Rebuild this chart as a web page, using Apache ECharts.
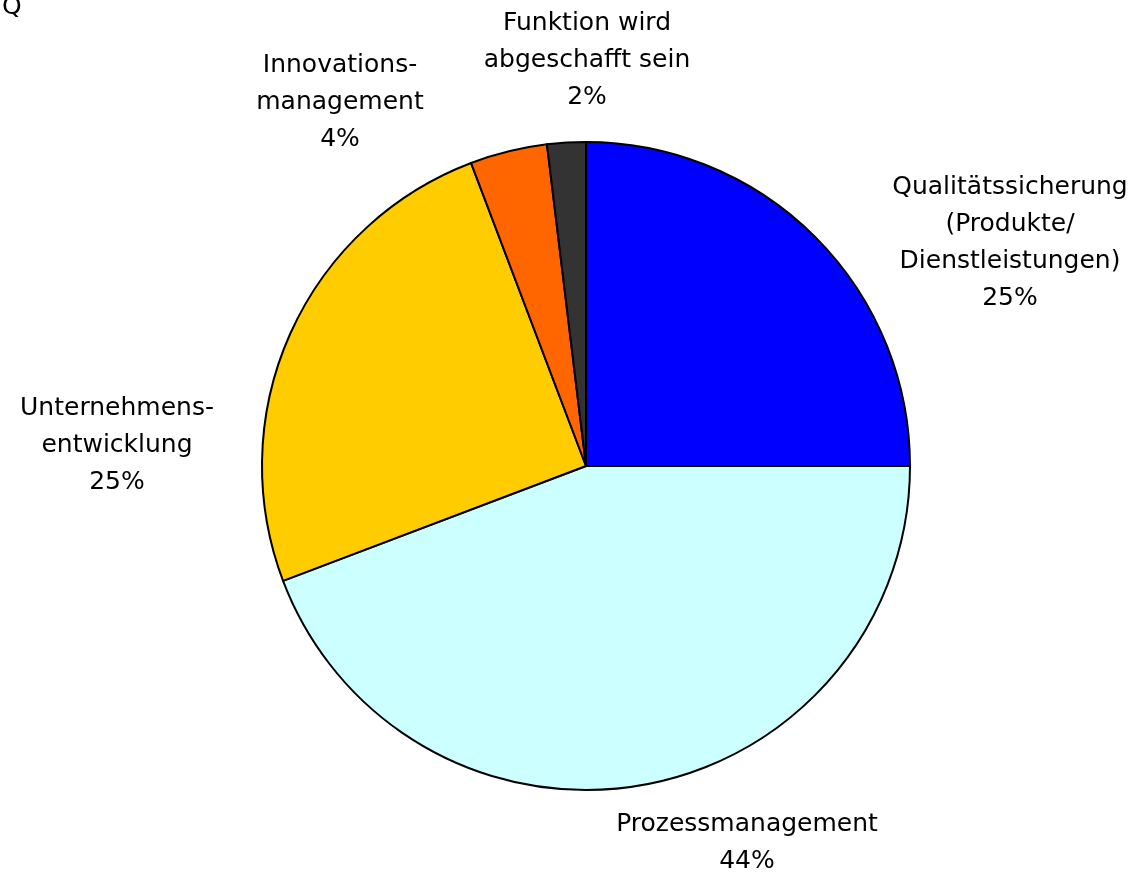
<!DOCTYPE html>
<html>
<head>
<meta charset="utf-8">
<script src="https://cdn.jsdelivr.net/npm/echarts@6/dist/echarts.min.js"></script>
<style>
  html, body { margin: 0; padding: 0; background: #fff; }
  #main { width: 1135px; height: 882px; }
</style>
</head>
<body>
<div id="main"></div>
<script>
// Anteile der Antworten (Anzahl Nennungen)
var categories = [
    'Qualitätssicherung\n(Produkte/\nDienstleistungen)',
    'Prozessmanagement',
    'Unternehmens-\nentwicklung',
    'Innovations-\nmanagement',
    'Funktion wird\nabgeschafft sein'
];
var values = [13, 23, 13, 2, 1];
var colors = ['#0000ff', '#ccffff', '#ffcc00', '#ff6600', '#333333'];

// Label-Mittelpunkte (px)
var labelPos = [[1010, 243], [747, 843], [117, 445], [340, 102], [587, 60]];

var chart = echarts.init(document.getElementById('main'));

var pieData = [];
for (var i = 0; i < values.length; i++) {
    pieData.push({ name: categories[i], value: values[i], itemStyle: { color: colors[i] } });
}

var option = {
    animation: false,
    title: {
        text: 'Q',
        left: -3,
        top: -10,
        textStyle: { fontFamily: 'DejaVu Sans', fontSize: 25, fontWeight: 'normal', color: '#000' }
    },
    series: [{
        type: 'pie',
        center: [586, 466],
        radius: 324,
        startAngle: 90,
        clockwise: true,
        silent: true,
        itemStyle: { borderColor: '#000', borderWidth: 2 },
        label: {
            show: true,
            position: 'outside',
            formatter: function (p) { return p.name + '\n' + Math.round(p.percent) + '%'; },
            fontFamily: 'DejaVu Sans',
            fontSize: 25,
            lineHeight: 37,
            color: '#000',
            align: 'center'
        },
        labelLine: { show: false },
        labelLayout: function (p) {
            var pos = labelPos[p.dataIndex];
            return { x: pos[0], y: pos[1], align: 'center', verticalAlign: 'middle' };
        },
        data: pieData
    }]
};

chart.setOption(option);
</script>
</body>
</html>
